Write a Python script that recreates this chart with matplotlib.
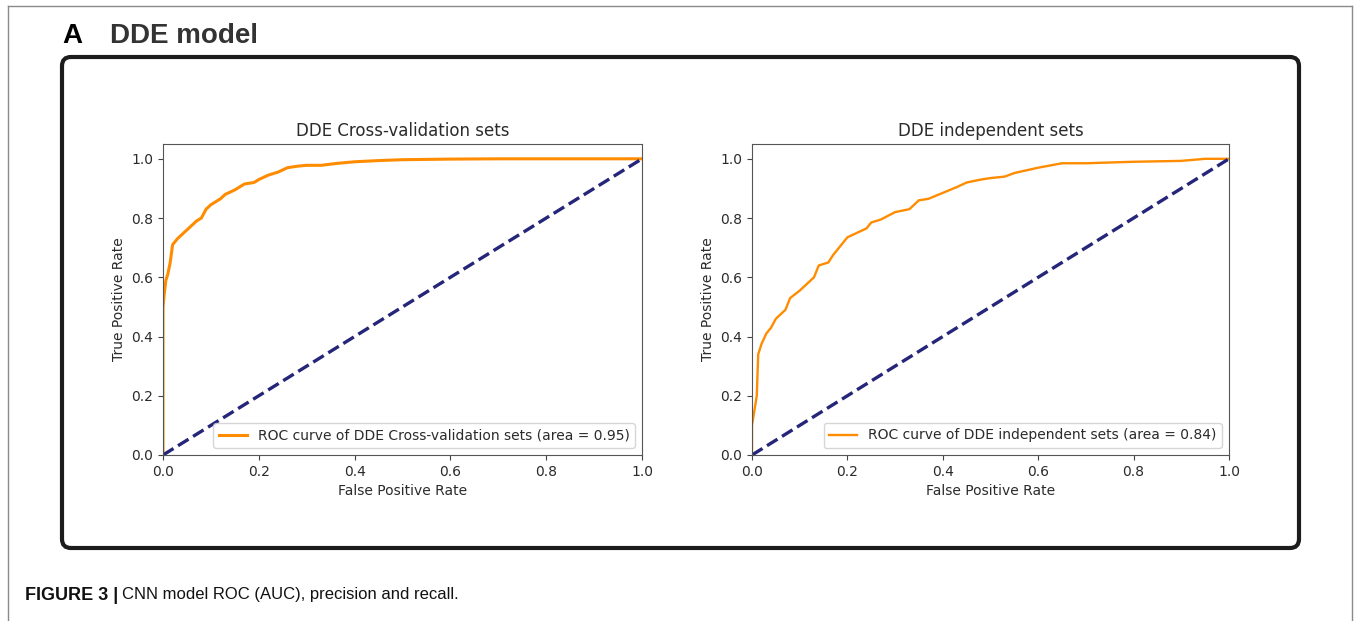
import numpy as np
import matplotlib
matplotlib.use("Agg")
import matplotlib.pyplot as plt
from matplotlib.patches import FancyBboxPatch
from matplotlib.lines import Line2D

# ROC curve of the cross-validation sets
cv_fpr = [0.0, 0.0, 0.003, 0.006, 0.01, 0.015, 0.02, 0.025, 0.03, 0.04, 0.05, 0.06,
          0.07, 0.08, 0.09, 0.10, 0.12, 0.13, 0.15, 0.17, 0.19, 0.20, 0.22, 0.24,
          0.26, 0.28, 0.30, 0.33, 0.36, 0.40, 0.45, 0.50, 0.60, 0.70, 0.80, 0.90, 1.0]
cv_tpr = [0.0, 0.50, 0.55, 0.59, 0.61, 0.65, 0.71, 0.72, 0.73, 0.745, 0.76, 0.775,
          0.79, 0.80, 0.83, 0.845, 0.865, 0.88, 0.895, 0.915, 0.92, 0.93, 0.945, 0.955,
          0.97, 0.975, 0.978, 0.978, 0.984, 0.99, 0.994, 0.997, 0.999, 1.0, 1.0, 1.0, 1.0]

# ROC curve of the independent sets
ind_fpr = [0.0, 0.0, 0.005, 0.01, 0.013, 0.02, 0.03, 0.04, 0.05, 0.06, 0.07, 0.08,
           0.10, 0.12, 0.13, 0.14, 0.16, 0.17, 0.19, 0.20, 0.22, 0.24, 0.25, 0.27,
           0.30, 0.33, 0.35, 0.37, 0.40, 0.43, 0.45, 0.48, 0.50, 0.53, 0.55, 0.60,
           0.65, 0.70, 0.80, 0.90, 0.95, 1.0]
ind_tpr = [0.0, 0.10, 0.15, 0.20, 0.34, 0.375, 0.41, 0.43, 0.46, 0.475, 0.49, 0.53,
           0.555, 0.585, 0.60, 0.64, 0.65, 0.675, 0.715, 0.735, 0.75, 0.765, 0.785, 0.795,
           0.82, 0.83, 0.86, 0.865, 0.885, 0.905, 0.92, 0.93, 0.935, 0.94, 0.952, 0.97,
           0.985, 0.985, 0.99, 0.993, 1.0, 1.0]

chance = [0.0, 1.0]

panels = [
    ("DDE Cross-validation sets", cv_fpr, cv_tpr, 0.95, 2.2),
    ("DDE independent sets", ind_fpr, ind_tpr, 0.84, 1.7),
]
ticks = [0.0, 0.2, 0.4, 0.6, 0.8, 1.0]

W, H = 1354, 621
fig = plt.figure(figsize=(W / 100, H / 100), dpi=100)

def px_box(x0, y0, x1, y1):
    # pixel box (top-left origin) -> figure fraction rect
    return [x0 / W, 1 - y1 / H, (x1 - x0) / W, (y1 - y0) / H]

axes_px = [(163, 144, 642, 455), (752, 144, 1229, 455)]
text_col = "#2b2b2b"

for (title, fpr, tpr, area, lw), box in zip(panels, axes_px):
    ax = fig.add_axes(px_box(*box))
    ax.plot(fpr, tpr, color="darkorange", lw=lw,
            label="ROC curve of %s (area = %0.2f)" % (title, area))
    ax.plot(chance, chance, color="#25257a", lw=2.4, linestyle="--")
    ax.set_xlim([0.0, 1.0])
    ax.set_ylim([0.0, 1.05])
    ax.set_xticks(ticks)
    ax.set_yticks(ticks)
    ax.tick_params(labelsize=10, colors="#444444", labelcolor=text_col)
    ax.set_xlabel("False Positive Rate", fontsize=10, color=text_col)
    ax.set_ylabel("True Positive Rate", fontsize=10, color=text_col)
    ax.set_title(title, fontsize=12, color=text_col)
    for s in ax.spines.values():
        s.set_color("#555555")
    ax.legend(loc="lower right", fontsize=10, labelcolor=text_col)

# rounded frame around the panel
bx0, by0, bx1, by1 = 62, 57, 1299, 548
frame = FancyBboxPatch((bx0 / W, 1 - by1 / H), (bx1 - bx0) / W, (by1 - by0) / H,
                       boxstyle="round,pad=0,rounding_size=%f" % (9 / W),
                       mutation_aspect=W / H, transform=fig.transFigure,
                       fill=False, edgecolor="#1c1c1c", lw=3.0, zorder=5)
fig.add_artist(frame)

# thin page border (top, left, right)
border = dict(color="#8a8a8a", lw=1.0, transform=fig.transFigure)
fig.add_artist(Line2D([8 / W, 1352 / W], [1 - 6 / H, 1 - 6 / H], **border))
fig.add_artist(Line2D([8 / W, 8 / W], [0, 1 - 6 / H], **border))
fig.add_artist(Line2D([1352 / W, 1352 / W], [0, 1 - 6 / H], **border))

# panel heading
fig.text(62 / W, 1 - 36 / H, "A", fontsize=20, fontweight="bold",
         family=["Liberation Sans", "DejaVu Sans"], color="black", va="center")
fig.text(110 / W, 1 - 36 / H, "DDE model", fontsize=20, fontweight="bold",
         family=["Liberation Sans", "DejaVu Sans"], color="#333333", va="center")

# caption below the figure
cap_font = ["Liberation Sans Narrow", "Liberation Sans", "DejaVu Sans"]
cap_y = 1 - 595 / H
t1 = fig.text(25 / W, cap_y, "FIGURE 3 |", fontsize=13, fontweight="bold",
              family=cap_font, color="#111111", va="center")
fig.canvas.draw()
ext = t1.get_window_extent(renderer=fig.canvas.get_renderer())
fig.text((ext.x1 + 4) / W, cap_y, "CNN model ROC (AUC), precision and recall.",
         fontsize=12, family=cap_font, color="#111111", va="center")

fig.savefig("out.png", dpi=100)
